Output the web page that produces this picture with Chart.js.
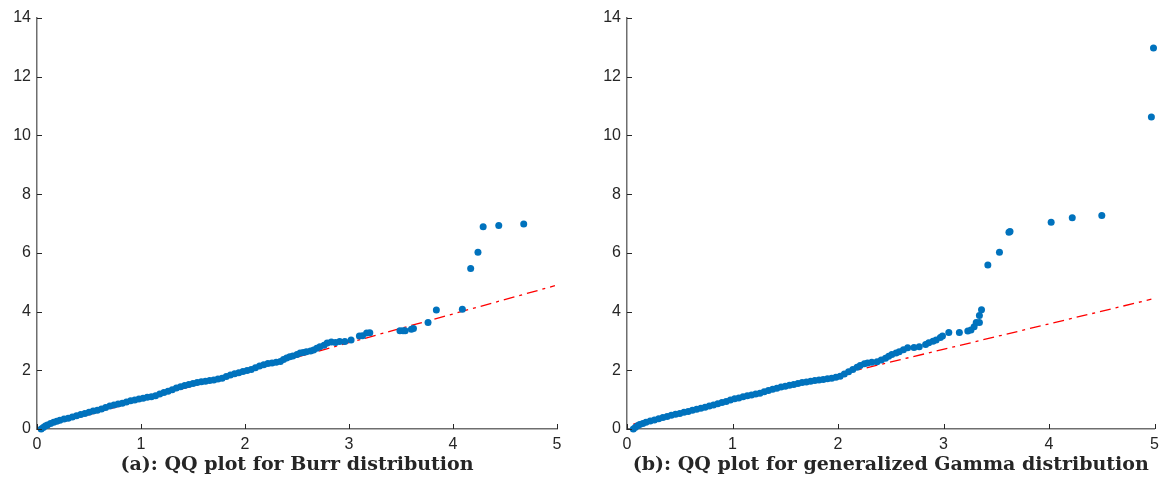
<!DOCTYPE html>
<html>
<head>
<meta charset="utf-8">
<script src="https://cdn.jsdelivr.net/npm/chart.js@4.4.1/dist/chart.umd.min.js"></script>
<style>
  body { margin: 0; background: #fff; width: 1160px; height: 477px; overflow: hidden; position: relative; }
  .box { position: absolute; top: 0; height: 477px; }
</style>
</head>
<body>
<div class="box" style="left:0;width:580px"><canvas id="burr-chart"></canvas></div>
<div class="box" style="left:590px;width:575px"><canvas id="gamma-chart"></canvas></div>
<script>
// tick labels
const xTicks = [0, 1, 2, 3, 4, 5];
const yTicks = [0, 2, 4, 6, 8, 10, 12, 14];

// (a) Burr: sample quantiles vs theoretical quantiles
const burrX = [0.04, 0.06, 0.08, 0.10, 0.13, 0.16, 0.19, 0.22, 0.26, 0.30, 0.34, 0.38, 0.42, 0.46, 0.50,
  0.54, 0.58, 0.62, 0.66, 0.70, 0.74, 0.78, 0.82, 0.86, 0.90, 0.94, 0.98, 1.02, 1.06, 1.10,
  1.14, 1.18, 1.22, 1.26, 1.30, 1.34, 1.38, 1.42, 1.46, 1.50, 1.54, 1.58, 1.62, 1.66, 1.70,
  1.74, 1.78, 1.82, 1.86, 1.90, 1.94, 1.98, 2.02, 2.06, 2.10, 2.14, 2.18, 2.22, 2.26, 2.30,
  2.34, 2.37, 2.40, 2.43, 2.46, 2.50, 2.53, 2.56, 2.59, 2.63, 2.66, 2.69, 2.72, 2.76, 2.79,
  2.83, 2.87, 2.91, 2.96, 3.02, 3.10, 3.13, 3.17, 3.20, 3.49, 3.52, 3.54, 3.60, 3.62, 3.76,
  3.84, 4.09, 4.17, 4.24, 4.29, 4.44, 4.68];
const burrY = [0.00, 0.05, 0.10, 0.14, 0.19, 0.23, 0.26, 0.30, 0.34, 0.37, 0.41, 0.45, 0.49, 0.53, 0.57,
  0.61, 0.64, 0.68, 0.73, 0.78, 0.82, 0.85, 0.88, 0.92, 0.96, 0.99, 1.02, 1.05, 1.08, 1.10,
  1.13, 1.19, 1.24, 1.29, 1.34, 1.40, 1.44, 1.48, 1.52, 1.55, 1.58, 1.61, 1.63, 1.65, 1.67,
  1.70, 1.73, 1.79, 1.84, 1.88, 1.92, 1.96, 1.99, 2.03, 2.09, 2.15, 2.19, 2.23, 2.25, 2.27,
  2.30, 2.37, 2.42, 2.46, 2.49, 2.54, 2.59, 2.61, 2.63, 2.66, 2.69, 2.75, 2.80, 2.85, 2.93,
  2.96, 2.95, 2.98, 2.98, 3.03, 3.17, 3.18, 3.27, 3.28, 3.35, 3.35, 3.35, 3.40, 3.42, 3.63,
  4.05, 4.08, 5.47, 6.02, 6.89, 6.93, 6.98];
const burrLineX = [0.04, 4.98];
const burrLineY = [0.04, 4.88];

// (b) generalized Gamma
const gammaX = [0.06, 0.08, 0.10, 0.12, 0.15, 0.18, 0.22, 0.26, 0.30, 0.34, 0.38, 0.42, 0.46, 0.50, 0.54,
  0.58, 0.62, 0.66, 0.70, 0.74, 0.78, 0.82, 0.86, 0.90, 0.94, 0.98, 1.02, 1.06, 1.10, 1.14,
  1.18, 1.22, 1.26, 1.30, 1.34, 1.38, 1.42, 1.46, 1.50, 1.54, 1.58, 1.62, 1.66, 1.70, 1.74,
  1.78, 1.82, 1.86, 1.90, 1.94, 1.98, 2.02, 2.06, 2.10, 2.14, 2.18, 2.21, 2.25, 2.28, 2.32,
  2.37, 2.41, 2.45, 2.48, 2.51, 2.55, 2.58, 2.62, 2.66, 2.72, 2.77, 2.83, 2.86, 2.90, 2.93,
  2.97, 2.99, 3.05, 3.15, 3.23, 3.26, 3.29, 3.31, 3.34, 3.34, 3.36, 3.42, 3.53, 3.62, 3.63,
  4.02, 4.22, 4.50, 4.97, 4.99];
const gammaY = [0.00, 0.06, 0.11, 0.15, 0.19, 0.23, 0.27, 0.31, 0.35, 0.39, 0.43, 0.47, 0.50, 0.53, 0.57,
  0.60, 0.64, 0.67, 0.71, 0.74, 0.78, 0.82, 0.86, 0.90, 0.94, 0.99, 1.03, 1.06, 1.10, 1.13,
  1.16, 1.19, 1.22, 1.27, 1.31, 1.35, 1.39, 1.43, 1.46, 1.49, 1.52, 1.55, 1.58, 1.60, 1.63,
  1.65, 1.67, 1.69, 1.71, 1.73, 1.76, 1.80, 1.87, 1.95, 2.03, 2.10, 2.16, 2.22, 2.25, 2.27,
  2.29, 2.35, 2.41, 2.48, 2.54, 2.59, 2.63, 2.70, 2.77, 2.78, 2.80, 2.88, 2.94, 2.99, 3.03,
  3.12, 3.17, 3.29, 3.29, 3.34, 3.37, 3.48, 3.63, 3.63, 3.87, 4.06, 5.59, 6.02, 6.70, 6.73,
  7.04, 7.20, 7.27, 10.63, 12.98];
const gammaLineX = [0.06, 4.97];
const gammaLineY = [0.17, 4.42];

const toPoints = (xs, ys) => xs.map((x, i) => ({ x: x, y: ys[i] }));

// MATLAB style ticks pointing into the axes
const inwardTicks = {
  id: "inwardTicks",
  afterDraw(chart) {
    const ctx = chart.ctx;
    const { left, bottom } = chart.chartArea;
    const xs = chart.scales.x;
    const ys = chart.scales.y;
    ctx.save();
    ctx.strokeStyle = "#262626";
    ctx.lineWidth = 1;
    ctx.beginPath();
    xTicks.forEach((v) => {
      const px = Math.round(xs.getPixelForValue(v)) + 0.5;
      ctx.moveTo(px, bottom);
      ctx.lineTo(px, bottom - 5);
    });
    yTicks.forEach((v) => {
      const py = Math.round(ys.getPixelForValue(v)) + 0.5;
      ctx.moveTo(left, py);
      ctx.lineTo(left + 5, py);
    });
    ctx.stroke();
    ctx.restore();
  },
};

const makeChart = (id, pts, lineX, lineY, title, padRight) => {
  return new Chart(document.getElementById(id), {
    type: "scatter",
    data: {
      datasets: [
        {
          data: pts,
          backgroundColor: "#0072BD",
          borderWidth: 0,
          pointRadius: 3.5,
          pointHoverRadius: 3.5,
          clip: false,
          order: 0,
        },
        {
          type: "line",
          data: toPoints(lineX, lineY),
          borderColor: "#FF0000",
          borderWidth: 1.3,
          borderDash: [11, 5, 3, 5],
          pointRadius: 0,
          showLine: true,
          fill: false,
          order: 1,
        },
      ],
    },
    options: {
      responsive: true,
      maintainAspectRatio: false,
      animation: false,
      events: [],
      layout: { padding: { left: 0, right: padRight, top: 18, bottom: 0 } },
      scales: {
        x: {
          type: "linear",
          min: 0,
          max: 5,
          afterBuildTicks: (s) => { s.ticks = xTicks.map((v) => ({ value: v })); },
          afterFit: (s) => { s.height = 24.2; },
          grid: { color: "rgba(0,0,0,0)", drawTicks: false },
          border: { display: true, color: "#6e6e6e", width: 1.5 },
          ticks: { padding: 6, color: "#262626", font: { family: "Liberation Sans", size: 16 } },
        },
        y: {
          type: "linear",
          min: 0,
          max: 14,
          afterBuildTicks: (s) => { s.ticks = yTicks.map((v) => ({ value: v })); },
          afterFit: (s) => { s.width = 37; },
          grid: { color: "rgba(0,0,0,0)", drawTicks: false },
          border: { display: true, color: "#6e6e6e", width: 1.5 },
          ticks: { padding: 6, color: "#262626", font: { family: "Liberation Sans", size: 16 } },
        },
      },
      plugins: {
        legend: { display: false },
        tooltip: { enabled: false },
        title: {
          display: true,
          text: title,
          position: "bottom",
          fullSize: false,
          color: "#262626",
          padding: { top: 0, bottom: 1 },
          font: { family: "DejaVu Serif", size: 19, weight: "bold", lineHeight: 1.2 },
        },
      },
    },
    plugins: [inwardTicks],
  });
};

let burrChart = makeChart("burr-chart", toPoints(burrX, burrY), burrLineX, burrLineY,
  "(a): QQ plot for Burr distribution", 23);
let gammaChart = makeChart("gamma-chart", toPoints(gammaX, gammaY), gammaLineX, gammaLineY,
  "(b): QQ plot for generalized Gamma distribution", 5);
</script>
</body>
</html>
